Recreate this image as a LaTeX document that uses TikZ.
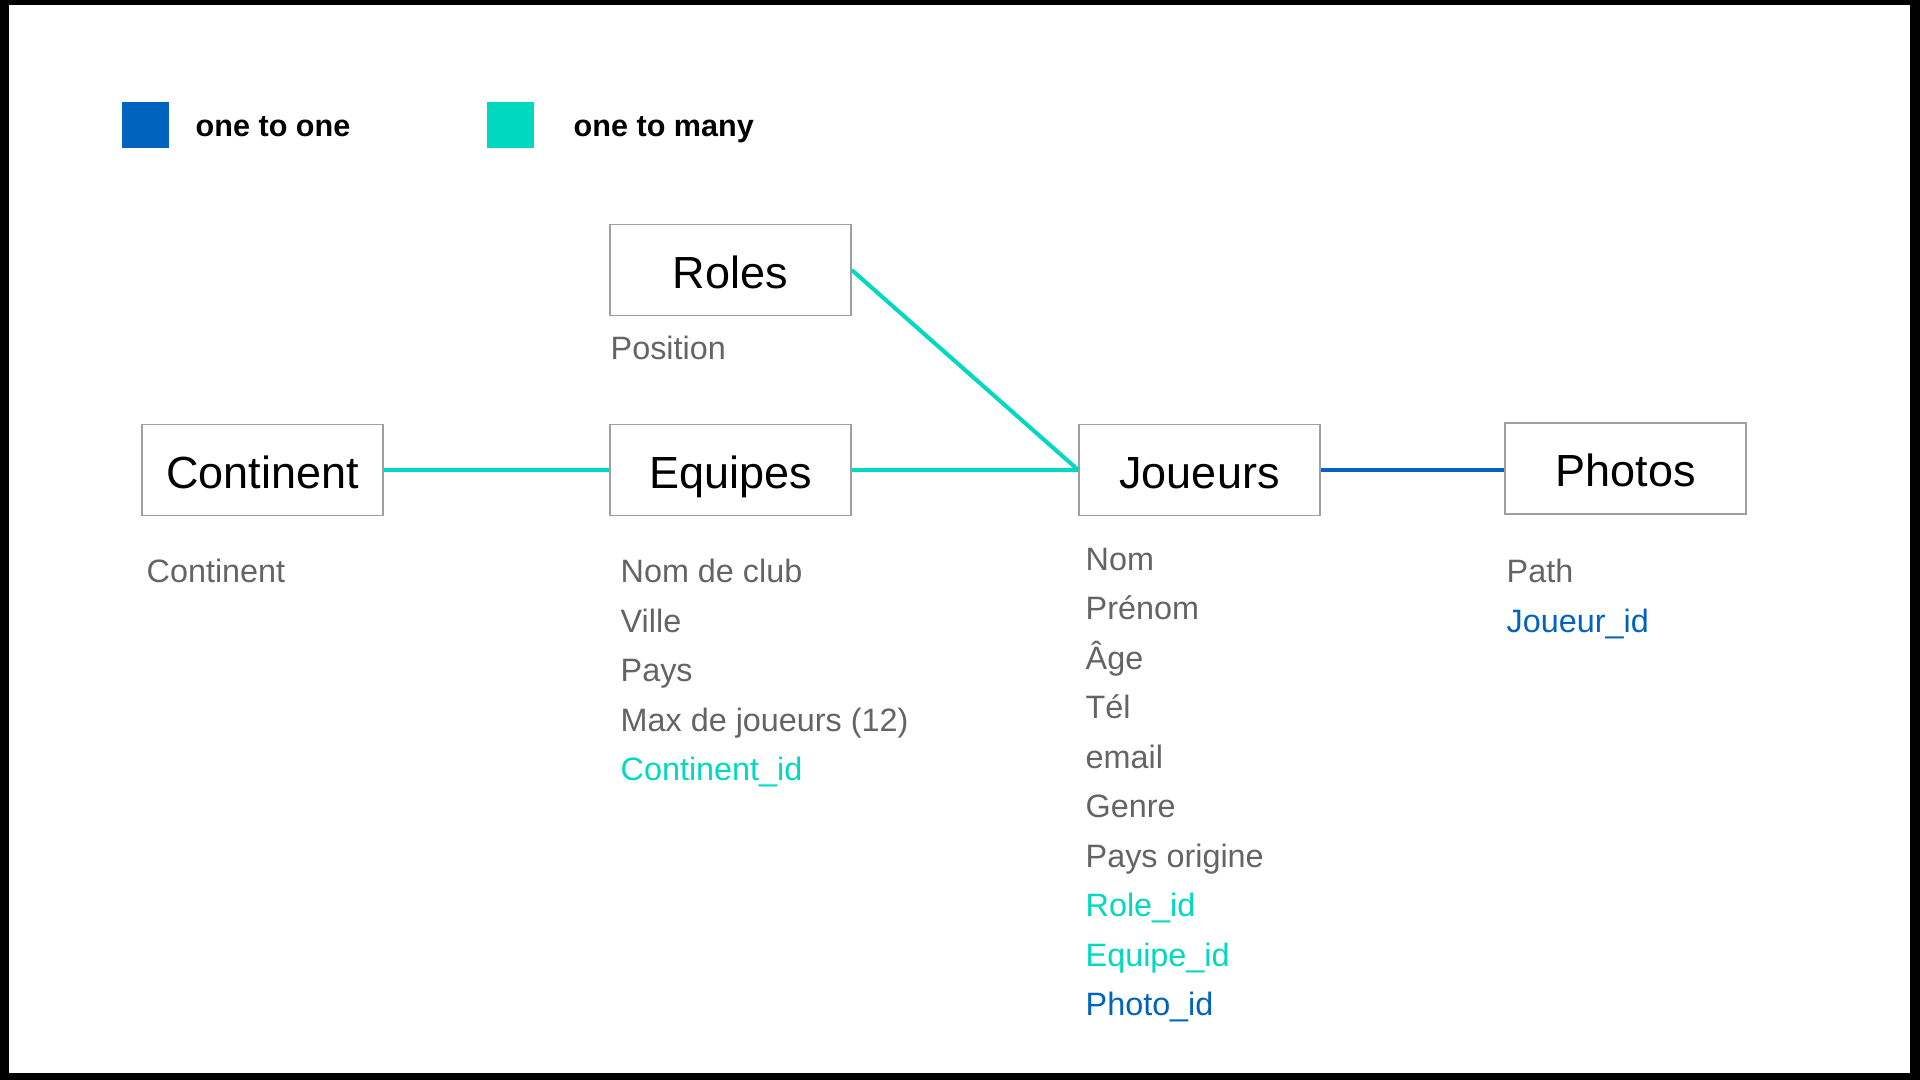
\documentclass[tikz,border=0pt]{standalone}
\usepackage{fontspec}
\setmainfont{Liberation Sans}
\definecolor{onetoone}{RGB}{0,100,190}
\definecolor{onetomany}{RGB}{0,217,192}
\definecolor{attrgray}{RGB}{100,100,100}

\begin{document}
\begin{tikzpicture}[x=0.01cm,y=-0.01cm,
  table/.style={draw=gray!75,line width=0.4pt,minimum width=2.41cm,minimum height=0.91cm,inner sep=0pt,text height=13pt,text depth=2.7pt,font=\fontsize{12.8}{15}\selectfont},
  attr/.style={anchor=base west,inner sep=0pt,text=attrgray,font=\fontsize{9.2}{11}\selectfont},
  legend/.style={anchor=base west,inner sep=0pt,font=\bfseries\fontsize{8.7}{10}\selectfont},
  rel/.style={line width=1.15pt}]
\fill [black] (0,0) rectangle (1920,1080);
\fill [white] (9,5) rectangle (1910,1073);
\fill [onetoone] (122,102) rectangle (169,148);
\node [legend] (l1) at (195,137) {one to one};
\fill [onetomany] (487,102) rectangle (534,148);
\node [legend] (l2) at (573,137) {one to many};
\node [table] (roles) at (730.5,270) {Roles};
\node [table] (continent) at (262.5,470) {Continent};
\node [table] (equipes) at (730.5,470) {Equipes};
\node [table] (joueurs) at (1199.5,470) {Joueurs};
\node [table] (photos) at (1625.5,468.5) {Photos};
\draw [rel,onetomany] (continent) -- (equipes);
\draw [rel,onetomany] (equipes) -- (joueurs.west);
\draw [rel,onetomany] (roles.east) -- (joueurs.west);
\draw [rel,onetoone] (joueurs.east) -- (joueurs.east -| photos.west);
\node [attr] (r1) at (610,360) {Position};
\node [attr] (c1) at (146,582.5) {Continent};
\node [attr] (e1) at (620,582.5) {Nom de club};
\node [attr] (e2) at (620,632.1) {Ville};
\node [attr] (e3) at (620,681.7) {Pays};
\node [attr] (e4) at (620,731.3) {Max de joueurs (12)};
\node [attr,text=onetomany] (e5) at (620,780.9) {Continent\_id};
\node [attr] (j1) at (1085,570.5) {Nom};
\node [attr] (j2) at (1085,620) {Prénom};
\node [attr] (j3) at (1085,669.5) {Âge};
\node [attr] (j4) at (1085,719) {Tél};
\node [attr] (j5) at (1085,768.5) {email};
\node [attr] (j6) at (1085,818) {Genre};
\node [attr] (j7) at (1085,867.5) {Pays origine};
\node [attr,text=onetomany] (j8) at (1085,917) {Role\_id};
\node [attr,text=onetomany] (j9) at (1085,966.5) {Equipe\_id};
\node [attr,text=onetoone] (j10) at (1085,1016) {Photo\_id};
\node [attr] (p1) at (1506,582.5) {Path};
\node [attr,text=onetoone] (p2) at (1506,632.1) {Joueur\_id};
\end{tikzpicture}
\end{document}
